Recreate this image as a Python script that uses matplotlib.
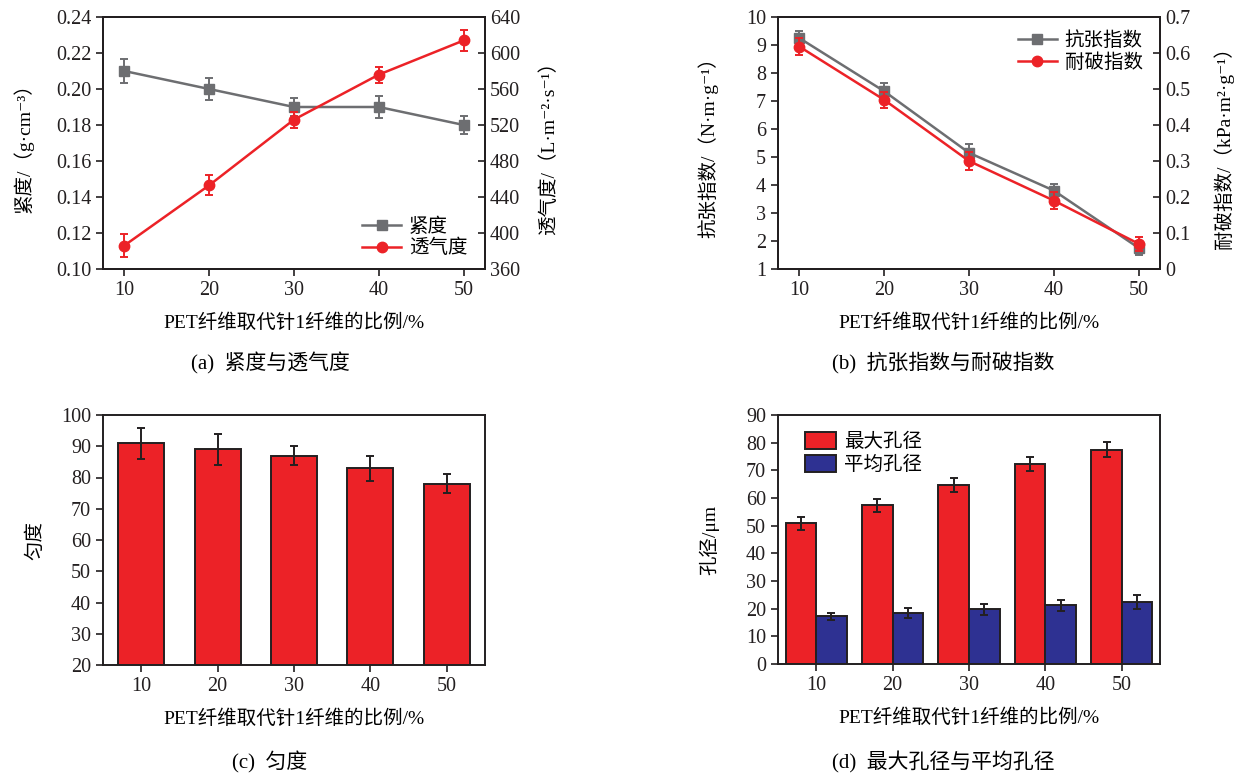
import matplotlib
matplotlib.use("Agg")
import matplotlib.pyplot as plt
import numpy as np

plt.rcParams['font.family'] = ['Liberation Serif', 'Noto Sans CJK SC', 'DejaVu Sans']
plt.rcParams['axes.linewidth'] = 1.4
plt.rcParams['axes.edgecolor'] = '#231f20'

ratio = [10, 20, 30, 40, 50]
xlabel = 'PET纤维取代针1纤维的比例/%'

# (a) tightness and air permeability
tight = [0.210, 0.200, 0.190, 0.190, 0.180]
tight_err = [0.0065, 0.006, 0.005, 0.006, 0.005]
air = [386, 453, 526, 576, 614]
air_err = [13, 11, 9, 9, 12]

# (b) tensile index and burst index
tensile = [9.25, 7.35, 5.15, 3.8, 1.75]
tensile_err = [0.25, 0.3, 0.3, 0.22, 0.25]
burst = [0.618, 0.470, 0.300, 0.190, 0.070]
burst_err = [0.023, 0.023, 0.025, 0.023, 0.02]

# (c) formation
formation = [91, 89, 87, 83, 78]
formation_err = [5, 5, 3, 4, 3]

# (d) pore size
pore_max = [50.8, 57.3, 64.7, 72.4, 77.5]
pore_max_err = [2.3, 2.4, 2.4, 2.6, 2.8]
pore_mean = [17.2, 18.3, 19.8, 21.2, 22.4]
pore_mean_err = [1.2, 1.8, 2.0, 2.1, 2.4]

gray = '#6d6e71'
red = '#ec2227'
blue = '#2e3192'
dark = '#231f20'

TICK = 14.5
LAB = 14
CAP = 15

fig = plt.figure(figsize=(12.39, 7.73), dpi=100)
W, H = 1239, 773


def box(x0, y0, x1, y1):
    return [x0 / W, 1 - y1 / H, (x1 - x0) / W, (y1 - y0) / H]


def style(ax):
    ax.tick_params(axis='both', labelsize=TICK, colors=dark, length=5, width=1.2,
                   direction='out')


def line_err(ax, y, err, color, marker, ms, label):
    # error bars without legend entry, then the line with markers
    ax.errorbar(ratio, y, yerr=err, fmt='none', ecolor=color, capsize=3,
                elinewidth=1.4, capthick=1.4)
    ax.plot(ratio, y, color=color, marker=marker, ms=ms, lw=1.8, label=label)


# ---- panel a
ax = fig.add_axes(box(103, 17, 485, 269))
line_err(ax, tight, tight_err, gray, 's', 6.5, '紧度')
ax.set_xlim(7.5, 52.5)
ax.set_ylim(0.10, 0.24)
ax.set_yticks(np.arange(0.10, 0.241, 0.02))
ax.set_yticklabels(['%.2f' % v for v in np.arange(0.10, 0.241, 0.02)])
ax.set_xticks(ratio)
style(ax)
ax.set_ylabel('紧度/（g·cm⁻³）', fontsize=LAB, labelpad=16)
ax.set_xlabel(xlabel, fontsize=LAB, labelpad=10)
ax2 = ax.twinx()
line_err(ax2, air, air_err, red, 'o', 7.5, '透气度')
ax2.set_ylim(360, 640)
ax2.set_yticks(range(360, 641, 40))
ax2.tick_params(axis='y', direction='in', labelsize=TICK, colors=dark, length=5, width=1.2)
ax2.set_ylabel('透气度/（L·m⁻²·s⁻¹）', fontsize=LAB, labelpad=14)
h1, l1 = ax.get_legend_handles_labels()
h2, l2 = ax2.get_legend_handles_labels()
ax2.legend(h1 + h2, l1 + l2, loc='lower right', bbox_to_anchor=(0.985, 0.0),
           frameon=False, fontsize=LAB, handlelength=2.0, handletextpad=0.4,
           borderaxespad=0.2, labelspacing=0.15)
fig.text(270 / W, 1 - 363 / H, '(a)  紧度与透气度', ha='center', va='center', fontsize=CAP)

# ---- panel b
ax = fig.add_axes(box(778, 17, 1160, 269))
line_err(ax, tensile, tensile_err, gray, 's', 6.5, '抗张指数')
ax.set_xlim(7.5, 52.5)
ax.set_ylim(1, 10)
ax.set_yticks(range(1, 11))
ax.set_xticks(ratio)
style(ax)
ax.set_ylabel('抗张指数/（N·m·g⁻¹）', fontsize=LAB, labelpad=20)
ax.set_xlabel(xlabel, fontsize=LAB, labelpad=10)
ax2 = ax.twinx()
line_err(ax2, burst, burst_err, red, 'o', 7.5, '耐破指数')
ax2.set_ylim(0, 0.7)
ax2.set_yticks(np.arange(0, 0.71, 0.1))
ax2.set_yticklabels(['0'] + ['%.1f' % v for v in np.arange(0.1, 0.71, 0.1)])
ax2.tick_params(axis='y', direction='in', labelsize=TICK, colors=dark, length=5, width=1.2)
ax2.set_ylabel('耐破指数/（kPa·m²·g⁻¹）', fontsize=LAB, labelpad=17)
h1, l1 = ax.get_legend_handles_labels()
h2, l2 = ax2.get_legend_handles_labels()
ax2.legend(h1 + h2, l1 + l2, loc='upper right', bbox_to_anchor=(0.985, 0.99),
           frameon=False, fontsize=LAB, handlelength=2.0, handletextpad=0.4,
           borderaxespad=0.2, labelspacing=0.15)
fig.text(943 / W, 1 - 363 / H, '(b)  抗张指数与耐破指数', ha='center', va='center', fontsize=CAP)

# ---- panel c
ax = fig.add_axes(box(103, 415, 485, 665))
ax.bar(ratio, formation, width=6, bottom=0, color=red, edgecolor=dark, linewidth=1.4,
       yerr=formation_err, capsize=3,
       error_kw=dict(ecolor=dark, elinewidth=1.4, capthick=1.4))
ax.set_xlim(5, 55)
ax.set_ylim(20, 100)
ax.set_yticks(range(20, 101, 10))
ax.set_xticks(ratio)
style(ax)
ax.set_ylabel('匀度', fontsize=LAB, labelpad=12)
ax.set_xlabel(xlabel, fontsize=LAB, labelpad=10)
fig.text(270 / W, 1 - 762 / H, '(c)  匀度', ha='center', va='center', fontsize=CAP)

# ---- panel d
ax = fig.add_axes(box(778, 415, 1160, 664))
x = np.array(ratio)
ax.bar(x - 2, pore_max, width=4, color=red, edgecolor=dark, linewidth=1.4,
       yerr=pore_max_err, capsize=3, label='最大孔径',
       error_kw=dict(ecolor=dark, elinewidth=1.4, capthick=1.4))
ax.bar(x + 2, pore_mean, width=4, color=blue, edgecolor=dark, linewidth=1.4,
       yerr=pore_mean_err, capsize=3, label='平均孔径',
       error_kw=dict(ecolor=dark, elinewidth=1.4, capthick=1.4))
ax.set_xlim(5, 55)
ax.set_ylim(0, 90)
ax.set_yticks(range(0, 91, 10))
ax.set_xticks(ratio)
style(ax)
ax.set_ylabel('孔径/μm', fontsize=LAB, labelpad=19)
ax.set_xlabel(xlabel, fontsize=LAB, labelpad=10)
ax.legend(loc='upper left', bbox_to_anchor=(0.04, 0.98), frameon=False, fontsize=LAB,
          handlelength=1.6, handleheight=1.0, handletextpad=0.4,
          borderaxespad=0.2, labelspacing=0.2)
fig.text(943 / W, 1 - 762 / H, '(d)  最大孔径与平均孔径', ha='center', va='center', fontsize=CAP)

fig.savefig('out.png', dpi=100)
